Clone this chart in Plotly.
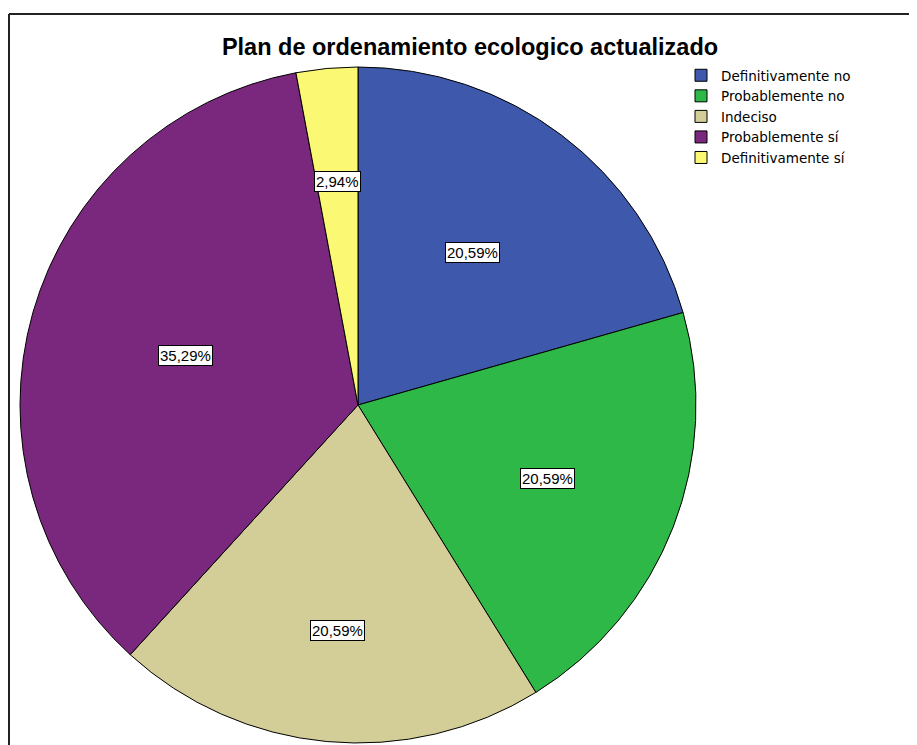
import math
import plotly.graph_objects as go

# ---- data ----
categories = ["Definitivamente no", "Probablemente no", "Indeciso", "Probablemente sí", "Definitivamente sí"]
percentages = [20.59, 20.59, 20.59, 35.29, 2.94]
colors = ["#3E58AC", "#2EB848", "#D3CE97", "#79287D", "#FBF873"]
title_text = "Plan de ordenamiento ecologico actualizado"

# ---- layout/style ----
W, H = 917, 745
OFF = 8  # page body margin
cx_px, cy_px, R_px = 358 - OFF, 405 - OFF, 338
label_radius_frac = [0.564, 0.60, 0.67, 0.53, 0.665]  # radial placement of boxed labels
FONT = "Liberation Sans, Arial"

fig = go.Figure()
fig.add_trace(go.Pie(
    labels=categories,
    values=percentages,
    marker=dict(colors=colors, line=dict(color="black", width=1)),
    sort=False,
    direction="clockwise",
    rotation=0,
    textinfo="none",
    hoverinfo="label+percent",
    domain=dict(x=[(cx_px - R_px) / W, (cx_px + R_px) / W],
                y=[1 - (cy_px + R_px) / H, 1 - (cy_px - R_px) / H]),
))

# boxed percentage labels computed from slice angles
total = sum(percentages)
annotations = []
cum = 0.0
for v, f in zip(percentages, label_radius_frac):
    mid = (cum + v / 2) / total * 2 * math.pi
    cum += v
    r = f * R_px
    x_px = cx_px + r * math.sin(mid)
    y_px = cy_px - r * math.cos(mid)
    annotations.append(dict(
        x=x_px / W, y=1 - y_px / H, xref="paper", yref="paper",
        xanchor="center", yanchor="middle",
        text=f"{v:.2f}".replace(".", ",") + "%",
        showarrow=False,
        font=dict(family=FONT, size=15, color="black"),
        bgcolor="white", bordercolor="black", borderwidth=1, borderpad=1,
    ))

fig.update_layout(
    width=W, height=H,
    margin=dict(l=0, r=0, t=0, b=0),
    paper_bgcolor="white",
    plot_bgcolor="white",
    title=dict(text=title_text, x=(470 - OFF) / W, xanchor="center", y=1 - (47 - OFF) / H, yanchor="middle",
               font=dict(family=FONT, size=23.5, color="black", weight="bold")),
    showlegend=True,
    legend=dict(x=(681 - OFF) / W, y=1 - (60 - OFF) / H, xanchor="left", yanchor="top",
                font=dict(family="DejaVu Sans", size=13.5, color="black"),
                bgcolor="rgba(0,0,0,0)", tracegroupgap=0, itemwidth=30),
    annotations=annotations,
    shapes=[
        dict(type="line", xref="paper", yref="paper", x0=(9 - OFF) / W, x1=1.01,
             y0=1 - (14 - OFF) / H, y1=1 - (14 - OFF) / H,
             line=dict(color="#222222", width=2)),
        dict(type="line", xref="paper", yref="paper", x0=(9 - OFF) / W, x1=(9 - OFF) / W,
             y0=1 - (14 - OFF) / H, y1=-0.01,
             line=dict(color="#222222", width=2)),
    ],
)

fig.write_html("out.html")
